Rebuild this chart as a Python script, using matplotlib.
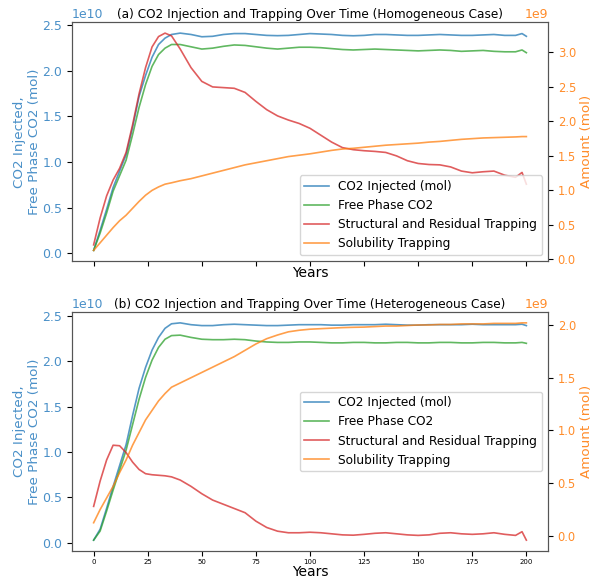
import numpy as np
import matplotlib
matplotlib.use("Agg")
import matplotlib.pyplot as plt

# years shared by every series
years = [0, 3, 6, 9, 12, 15, 18, 21, 24, 27, 30, 33, 36, 40, 45, 50, 55, 60, 65, 70,
         75, 80, 85, 90, 95, 100, 105, 110, 115, 120, 125, 130, 135, 140, 145, 150,
         155, 160, 165, 170, 175, 180, 185, 190, 195, 198, 200]

# (a) homogeneous case
homo_injected = [0.03, 0.25, 0.48, 0.72, 0.90, 1.08, 1.38, 1.72, 1.95, 2.15, 2.29, 2.36, 2.40, 2.415,
                 2.40, 2.375, 2.38, 2.40, 2.41, 2.41, 2.40, 2.39, 2.387, 2.39, 2.40, 2.41, 2.405,
                 2.40, 2.39, 2.386, 2.39, 2.40, 2.40, 2.395, 2.39, 2.39, 2.395, 2.40, 2.395, 2.39,
                 2.39, 2.395, 2.40, 2.39, 2.39, 2.41, 2.38]
homo_free = [0.03, 0.22, 0.44, 0.68, 0.85, 1.02, 1.30, 1.60, 1.85, 2.05, 2.18, 2.25, 2.29, 2.29,
             2.265, 2.24, 2.25, 2.27, 2.285, 2.28, 2.265, 2.25, 2.24, 2.25, 2.26, 2.26, 2.255,
             2.245, 2.235, 2.23, 2.235, 2.24, 2.235, 2.23, 2.225, 2.22, 2.225, 2.23, 2.225, 2.215,
             2.22, 2.225, 2.215, 2.21, 2.21, 2.23, 2.20]
homo_struct = [0.21, 0.60, 0.92, 1.15, 1.32, 1.55, 1.95, 2.40, 2.78, 3.08, 3.23, 3.28, 3.24, 3.05,
               2.78, 2.58, 2.50, 2.49, 2.48, 2.42, 2.29, 2.17, 2.08, 2.02, 1.97, 1.90, 1.80,
               1.70, 1.62, 1.59, 1.575, 1.565, 1.55, 1.50, 1.43, 1.39, 1.375, 1.37, 1.34, 1.28,
               1.255, 1.27, 1.28, 1.22, 1.19, 1.26, 1.09]
homo_solub = [0.13, 0.24, 0.35, 0.46, 0.56, 0.64, 0.74, 0.84, 0.93, 1.00, 1.05, 1.09, 1.11, 1.14,
              1.17, 1.21, 1.25, 1.29, 1.33, 1.37, 1.40, 1.43, 1.46, 1.49, 1.51, 1.53, 1.555,
              1.58, 1.60, 1.61, 1.625, 1.64, 1.655, 1.665, 1.675, 1.685, 1.70, 1.71, 1.725, 1.74,
              1.75, 1.76, 1.765, 1.77, 1.775, 1.78, 1.78]

# (b) heterogeneous case
hetero_injected = [0.03, 0.15, 0.38, 0.62, 0.85, 1.08, 1.40, 1.70, 1.93, 2.12, 2.26, 2.36, 2.41, 2.42,
                   2.40, 2.39, 2.39, 2.40, 2.405, 2.40, 2.395, 2.39, 2.39, 2.395, 2.40, 2.40, 2.40,
                   2.395, 2.395, 2.40, 2.40, 2.40, 2.405, 2.40, 2.395, 2.395, 2.40, 2.40, 2.40, 2.40,
                   2.405, 2.40, 2.40, 2.40, 2.40, 2.405, 2.39]
hetero_free = [0.03, 0.13, 0.35, 0.58, 0.80, 1.02, 1.30, 1.58, 1.82, 2.01, 2.15, 2.24, 2.28, 2.285,
               2.26, 2.24, 2.235, 2.235, 2.24, 2.235, 2.22, 2.21, 2.205, 2.205, 2.21, 2.21, 2.205,
               2.20, 2.20, 2.205, 2.205, 2.20, 2.20, 2.205, 2.205, 2.20, 2.20, 2.205, 2.205, 2.20,
               2.20, 2.205, 2.205, 2.20, 2.20, 2.205, 2.195]
hetero_struct = [0.28, 0.52, 0.72, 0.86, 0.855, 0.79, 0.70, 0.63, 0.59, 0.58, 0.575, 0.57, 0.56, 0.53,
                 0.47, 0.40, 0.34, 0.30, 0.26, 0.22, 0.14, 0.08, 0.045, 0.03, 0.03, 0.035, 0.03,
                 0.02, 0.01, 0.007, 0.015, 0.025, 0.03, 0.02, 0.01, 0.005, 0.01, 0.025, 0.03, 0.02,
                 0.015, 0.02, 0.03, 0.015, 0.005, 0.04, -0.04]
hetero_solub = [0.125, 0.25, 0.36, 0.47, 0.60, 0.72, 0.86, 0.98, 1.10, 1.19, 1.28, 1.35, 1.41, 1.45,
                1.50, 1.55, 1.60, 1.65, 1.70, 1.76, 1.82, 1.87, 1.905, 1.935, 1.95, 1.96, 1.965,
                1.97, 1.975, 1.978, 1.98, 1.985, 1.99, 1.99, 1.995, 2.00, 2.00, 2.005, 2.005, 2.01,
                2.01, 2.01, 2.015, 2.015, 2.015, 2.02, 2.02]

titles = ["(a) CO2 Injection and Trapping Over Time (Homogeneous Case)",
          "(b) CO2 Injection and Trapping Over Time (Heterogeneous Case)"]
cases = [(homo_injected, homo_free, homo_struct, homo_solub),
         (hetero_injected, hetero_free, hetero_struct, hetero_solub)]
legend_locs = ["lower right", "center right"]

fig = plt.figure(figsize=(5.95, 5.78), dpi=100)
positions = [[0.121, 0.548, 0.800, 0.4135], [0.121, 0.0467, 0.800, 0.4135]]

blue_txt = "#4a90c8"
orange_txt = "#ff8c2a"

for i in range(2):
    inj, free, struct, solub = cases[i]
    ax = fig.add_axes(positions[i])
    ax2 = ax.twinx()

    l1, = ax.plot(years, np.array(inj) * 1e10, color="tab:blue", alpha=0.75, lw=1.2, label="CO2 Injected (mol)")
    l2, = ax.plot(years, np.array(free) * 1e10, color="tab:green", alpha=0.75, lw=1.2, label="Free Phase CO2")
    l3, = ax2.plot(years, np.array(struct) * 1e9, color="tab:red", alpha=0.75, lw=1.2, label="Structural and Residual Trapping")
    l4, = ax2.plot(years, np.array(solub) * 1e9, color="tab:orange", alpha=0.75, lw=1.2, label="Solubility Trapping")

    ax.set_title(titles[i], fontsize=8.7, pad=3)
    ax.set_ylabel("CO2 Injected,\nFree Phase CO2 (mol)", color=blue_txt, fontsize=9.7, labelpad=1)
    ax2.set_ylabel("Amount (mol)", color=orange_txt, fontsize=9.7, labelpad=3)
    ax.tick_params(axis="y", labelcolor=blue_txt, labelsize=9)
    ax2.tick_params(axis="y", labelcolor=orange_txt, labelsize=8.3)
    ax.yaxis.get_offset_text().set_color(blue_txt)
    ax.yaxis.get_offset_text().set_fontsize(9)
    ax2.yaxis.get_offset_text().set_color(orange_txt)
    ax2.yaxis.get_offset_text().set_fontsize(9)
    ax.set_xticks([0, 25, 50, 75, 100, 125, 150, 175, 200])
    if i == 0:
        ax.tick_params(axis="x", labelbottom=False)
        ax.set_xlabel("Years", fontsize=10, labelpad=0)
    else:
        ax.tick_params(axis="x", labelsize=5, pad=2)
        ax.set_xlabel("Years", fontsize=10, labelpad=0)
    for a in (ax, ax2):
        for s in a.spines.values():
            s.set_color("#555555")

    ax2.legend([l1, l2, l3, l4], [l.get_label() for l in [l1, l2, l3, l4]],
               loc=legend_locs[i], fontsize=8.7)

fig.savefig("out.png", dpi=100)
